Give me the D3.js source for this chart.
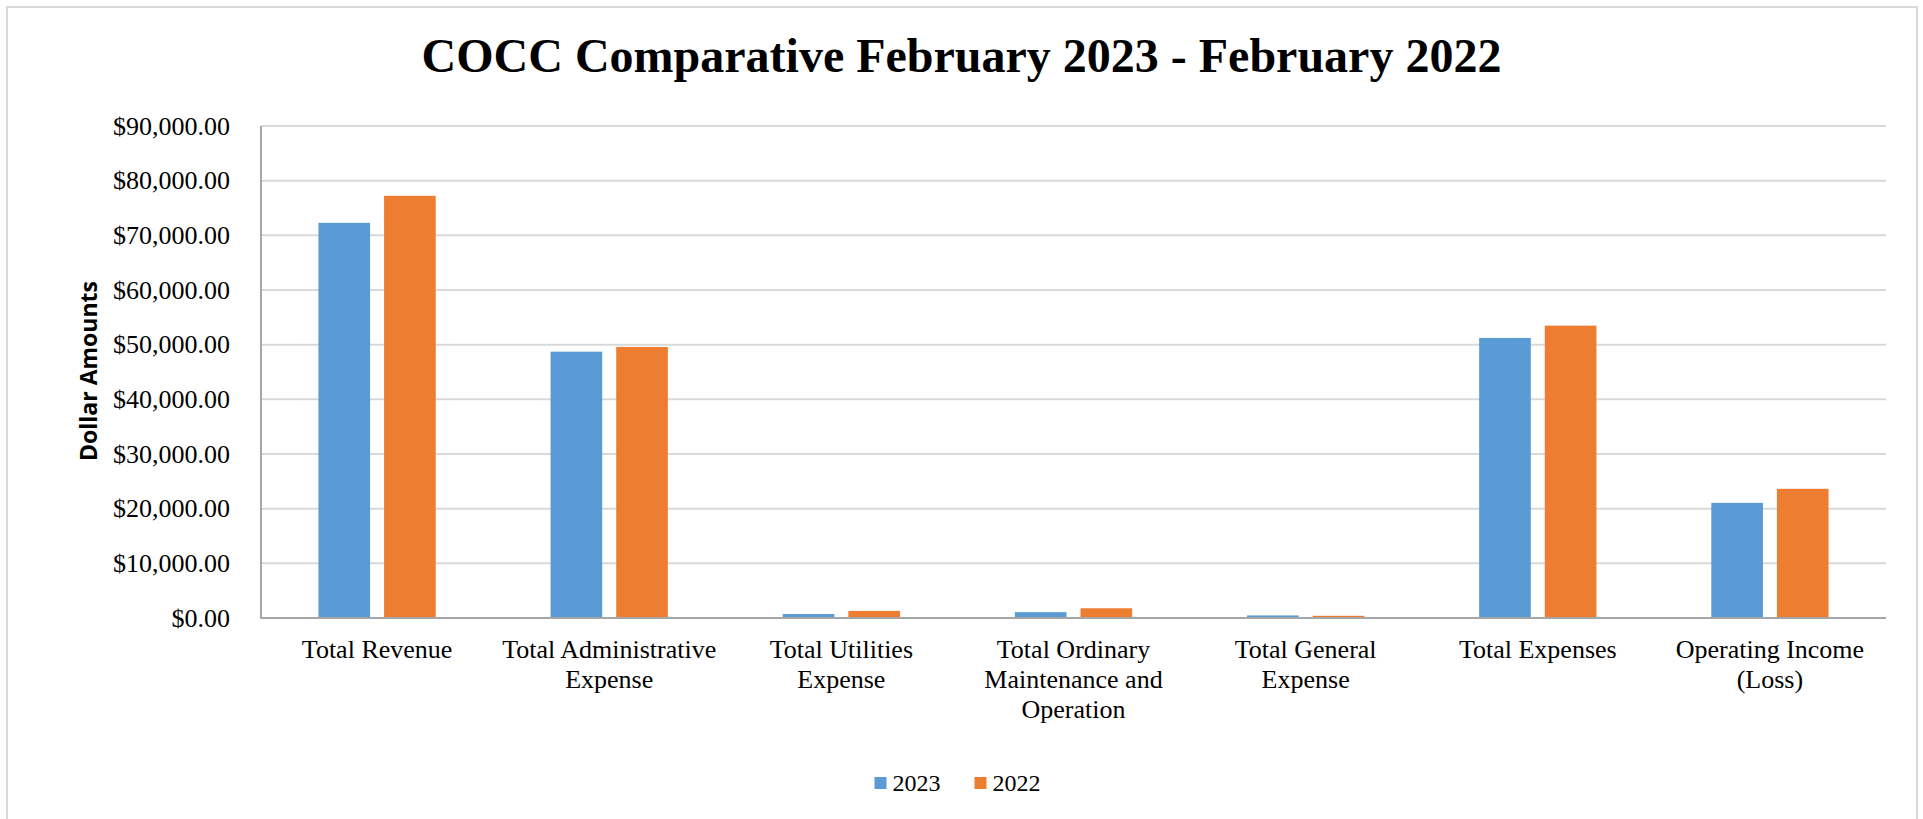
<!DOCTYPE html>
<html>
<head>
<meta charset="utf-8">
<script src="https://cdn.jsdelivr.net/npm/d3@7"></script>
<style>
  html, body { margin: 0; padding: 0; background: #ffffff; }
  svg { display: block; }
</style>
</head>
<body>
<svg id="chart" width="1923" height="819"></svg>
<script>
// Monthly comparison, February 2023 vs February 2022
const categories = [
  "Total Revenue",
  "Total Administrative Expense",
  "Total Utilities Expense",
  "Total Ordinary Maintenance and Operation",
  "Total General Expense",
  "Total Expenses",
  "Operating Income (Loss)"
];
const seriesNames = ["2023", "2022"];
const values2023 = [72290, 48720, 730, 1070, 470, 51230, 21060];
const values2022 = [77230, 49580, 1300, 1780, 400, 53480, 23630];
const yTicks = [0, 10000, 20000, 30000, 40000, 50000, 60000, 70000, 80000, 90000];
const titleText = "COCC Comparative February 2023 - February 2022";
const yTitle = "Dollar Amounts";

const colors = { "2023": "#5B9BD5", "2022": "#ED7D31" };
const serif = "'Liberation Serif', 'Times New Roman', serif";

const W = 1923, H = 819;
const plot = { left: 261, right: 1886, top: 126, bottom: 618 };

const svg = d3.select("#chart");

// outer chart frame
svg.append("rect")
  .attr("x", 7).attr("y", 7)
  .attr("width", 1910).attr("height", 830)
  .attr("fill", "#ffffff")
  .attr("stroke", "#d9d9d9")
  .attr("stroke-width", 2);

// title
svg.append("text")
  .attr("x", W / 2).attr("y", 72)
  .attr("text-anchor", "middle")
  .style("font-family", serif)
  .style("font-weight", "bold")
  .style("font-size", "48px")
  .attr("fill", "#000")
  .text(titleText);

const rows = categories.map((c, i) => ({ category: c, "2023": values2023[i], "2022": values2022[i] }));

const x0 = d3.scaleBand().domain(categories).range([plot.left, plot.right]).paddingInner(0).paddingOuter(0);
const x1 = d3.scaleBand().domain(seriesNames).range([0, x0.bandwidth()]).paddingInner(0.213).paddingOuter(0.875);
const y = d3.scaleLinear().domain([0, 90000]).range([plot.bottom, plot.top]);

// gridlines
svg.append("g")
  .selectAll("line")
  .data(yTicks.filter(t => t > 0))
  .join("line")
  .attr("x1", plot.left).attr("x2", plot.right)
  .attr("y1", d => y(d)).attr("y2", d => y(d))
  .attr("stroke", "#d9d9d9")
  .attr("stroke-width", 2);

// y axis tick labels
const yAxis = d3.axisLeft(y)
  .tickValues(yTicks)
  .tickSize(0)
  .tickPadding(31)
  .tickFormat(d => "$" + d3.format(",.2f")(d));
const gy = svg.append("g").attr("transform", `translate(${plot.left},0)`).call(yAxis);
gy.select(".domain").remove();
gy.selectAll("text")
  .style("font-family", serif)
  .style("font-size", "26px")
  .attr("fill", "#000");

// bars
svg.append("g")
  .selectAll("g")
  .data(rows)
  .join("g")
  .attr("transform", d => `translate(${x0(d.category)},0)`)
  .selectAll("rect")
  .data(d => seriesNames.map(s => ({ key: s, value: d[s] })))
  .join("rect")
  .attr("x", d => x1(d.key))
  .attr("width", x1.bandwidth())
  .attr("y", d => y(d.value))
  .attr("height", d => y(0) - y(d.value))
  .attr("fill", d => colors[d.key]);

// axis lines
svg.append("line")
  .attr("x1", plot.left).attr("x2", plot.left)
  .attr("y1", plot.top).attr("y2", plot.bottom)
  .attr("stroke", "#a6a6a6").attr("stroke-width", 2);
svg.append("line")
  .attr("x1", plot.left - 1).attr("x2", plot.right)
  .attr("y1", plot.bottom).attr("y2", plot.bottom)
  .attr("stroke", "#a6a6a6").attr("stroke-width", 2);

// category labels, wrapped to fit each band
const xAxis = d3.axisBottom(x0).tickSize(0).tickPadding(0);
const gx = svg.append("g").attr("transform", `translate(0,${plot.bottom})`).call(xAxis);
gx.select(".domain").remove();
gx.selectAll("text")
  .style("font-family", serif)
  .style("font-size", "26px")
  .attr("fill", "#000")
  .each(function(d) {
    const t = d3.select(this);
    const words = d.split(" ");
    t.text(null).attr("y", 0).attr("dy", null);
    const maxW = 226;
    const lines = [];
    let cur = [];
    const probe = t.append("tspan");
    words.forEach(w => {
      const trial = cur.concat([w]).join(" ");
      probe.text(trial);
      if (probe.node().getComputedTextLength() > maxW && cur.length) {
        lines.push(cur.join(" "));
        cur = [w];
      } else {
        cur.push(w);
      }
    });
    lines.push(cur.join(" "));
    probe.remove();
    lines.forEach((ln, i) => {
      t.append("tspan").attr("x", 0).attr("y", 40 + i * 30).text(ln);
    });
  });

// y axis title
svg.append("text")
  .attr("transform", `translate(97,371) rotate(-90)`)
  .attr("text-anchor", "middle")
  .style("font-family", "'Open Sans', 'Noto Sans', sans-serif")
  .style("font-weight", "bold")
  .style("font-size", "23px")
  .attr("fill", "#000")
  .text(yTitle);

// legend
const legend = svg.append("g");
const items = legend.selectAll("g").data(seriesNames).join("g");
items.append("rect")
  .attr("width", 12).attr("height", 12)
  .attr("y", -6)
  .attr("fill", d => colors[d]);
items.append("text")
  .attr("x", 18).attr("y", 0).attr("dy", "0.33em")
  .style("font-family", serif)
  .style("font-size", "24px")
  .attr("fill", "#000")
  .text(d => d);
let lx = 0;
items.each(function() {
  const g = d3.select(this);
  g.attr("transform", `translate(${lx},0)`);
  lx += this.getBBox().width + 34;
});
const legendW = lx - 34;
legend.attr("transform", `translate(${W / 2 - legendW / 2 - 4},783)`);
</script>
</body>
</html>
